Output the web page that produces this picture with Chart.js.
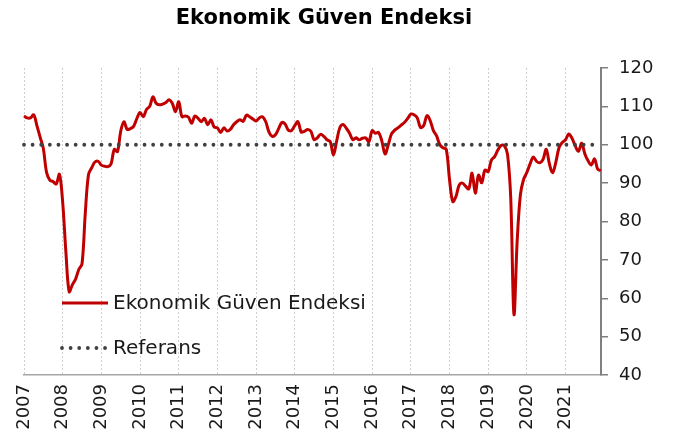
<!DOCTYPE html>
<html>
<head>
<meta charset="utf-8">
<script src="https://cdn.jsdelivr.net/npm/chart.js@4/dist/chart.umd.min.js"></script>
<style>
    html, body { margin: 0; padding: 0; background: #fff; }
</style>
</head>
<body>
<canvas id="chart" width="699" height="440"></canvas>
<script>
const years = ['2007', '2008', '2009', '2010', '2011', '2012', '2013', '2014',
    '2015', '2016', '2017', '2018', '2019', '2020', '2021'];
const months = ['01', '02', '03', '04', '05', '06', '07', '08', '09', '10', '11', '12'];

// Ekonomik Güven Endeksi, monthly
const v2007 = [107.5, 107, 107, 107.8, 105, 102, 99, 92.8, 90.8, 90.4, 89.8, 92.3];
const v2008 = [85, 72, 61.7, 63.5, 65, 67.5, 69, 82, 92.2, 94, 95.5, 95.7];
const v2009 = [94.7, 94.4, 94.3, 95, 98.8, 98.2, 103.5, 106, 104, 104.2, 104.8, 106.8];
const v2010 = [108.4, 107.3, 109.2, 110, 112.5, 110.8, 110.4, 110.6, 111, 111.7, 110.8, 108.6];
const v2011 = [111.2, 107.3, 107.5, 107.2, 105.6, 107.5, 106.9, 106, 106.9, 105.2, 106.5, 104.6];
const v2012 = [104.4, 103.2, 104.4, 103.6, 104, 105.2, 106, 106.5, 106.1, 107.7, 107.3, 106.7];
const v2013 = [106.2, 107, 107.3, 106, 103.3, 102.2, 102.6, 104.2, 105.8, 105.4, 103.8, 103.7];
const v2014 = [105, 106, 103.3, 103.5, 104, 103.5, 101.3, 101.8, 102.7, 102.2, 101.3, 100.8];
const v2015 = [97.3, 101, 104.5, 105.3, 104.3, 103, 101.3, 101.8, 101.3, 101.7, 101.8, 100.8];
const v2016 = [103.7, 103, 103.2, 101, 97.6, 100, 102.8, 103.8, 104.4, 105.1, 105.8, 106.8];
const v2017 = [108, 107.8, 107, 104.5, 105, 107.6, 106.3, 103.7, 102.3, 100, 99.2, 98.8];
const v2018 = [91, 85.2, 86.5, 89.5, 90, 89.2, 88.5, 92.6, 87.4, 92.1, 90.1, 93.4];
const v2019 = [93, 96, 96.9, 98.6, 99.8, 99.8, 97.5, 86, 55.8, 75, 87, 91];
const v2020 = [92.8, 95, 96.8, 95.7, 95.3, 96.1, 98.8, 95, 92.7, 95.5, 99.3, 100.6];
const v2021 = [101.3, 102.8, 101.7, 99.7, 98.3, 100.4, 97.6, 95.8, 94.7, 96.3, 93.6, 93.3];

// Referans: flat line at 100
const referansValue = 100;
const referansStart = '2007-01';
const referansEnd = '2021-10';

const labels = years.flatMap((y) => months.map((m) => `${y}-${m}`));
const guven = [].concat(v2007, v2008, v2009, v2010, v2011, v2012, v2013, v2014,
    v2015, v2016, v2017, v2018, v2019, v2020, v2021);
const referans = [
    { x: referansStart, y: referansValue },
    { x: referansEnd, y: referansValue },
];

const FONT = "'DejaVu Sans', sans-serif";
const TEXT = '#1a1a1a';
const RED = '#c00000';
const DOTS = '#404040';
const TITLE = 'Ekonomik Güven Endeksi';

// title and legend drawn by hand: title is centred a bit left of the canvas,
// legend sits inside the plot, lower left
const decorations = {
    id: 'decorations',
    afterDraw(chart) {
        const { ctx, chartArea } = chart;
        ctx.save();
        ctx.font = `bold 21px ${FONT}`;
        ctx.fillStyle = '#000';
        ctx.textAlign = 'center';
        ctx.textBaseline = 'middle';
        ctx.fillText(TITLE, 324, 19);

        const x0 = chartArea.left + 38;
        const x1 = chartArea.left + 84;
        const rows = [chartArea.bottom - 72, chartArea.bottom - 27];
        chart.data.datasets.forEach((ds, i) => {
            const y = rows[i];
            ctx.beginPath();
            ctx.strokeStyle = ds.borderColor;
            ctx.lineWidth = ds.borderWidth;
            ctx.lineCap = ds.borderCapStyle || 'butt';
            ctx.setLineDash(ds.borderDash || []);
            ctx.moveTo(x0, y);
            ctx.lineTo(x1, y);
            ctx.stroke();
            ctx.setLineDash([]);
            ctx.font = `20px ${FONT}`;
            ctx.fillStyle = TEXT;
            ctx.textAlign = 'left';
            ctx.fillText(ds.label, x1 + 5, y + 1);
        });
        ctx.restore();
    },
};

new Chart(document.getElementById('chart'), {
    type: 'line',
    data: {
        labels,
        datasets: [
            {
                label: 'Ekonomik Güven Endeksi',
                data: guven,
                borderColor: RED,
                borderWidth: 3,
                pointRadius: 0,
                tension: 0.35,
                order: 1,
            },
            {
                label: 'Referans',
                data: referans,
                borderColor: DOTS,
                borderWidth: 3.8,
                borderDash: [0.01, 8.6],
                borderCapStyle: 'round',
                pointRadius: 0,
                order: 0,
            },
        ],
    },
    options: {
        responsive: false,
        animation: false,
        layout: { padding: { left: 24, right: 0, top: 68, bottom: 0 } },
        plugins: {
            legend: { display: false },
            tooltip: { enabled: false },
            title: { display: false },
        },
        scales: {
            x: {
                grid: {
                    color: '#cfcfcf',
                    lineWidth: (c) => (c.tick && c.tick.label ? 1 : 0),
                    drawTicks: false,
                },
                border: { display: true, color: '#a6a6a6', width: 1.5, dash: [2, 2] },
                ticks: {
                    autoSkip: false,
                    maxRotation: 90,
                    minRotation: 90,
                    padding: 9,
                    color: TEXT,
                    font: { family: FONT, size: 18 },
                    callback: function (val) {
                        const l = this.getLabelForValue(val);
                        return l.endsWith('-01') ? l.slice(0, 4) : '';
                    },
                },
                afterFit: (s) => { s.height = 65; },
            },
            y: {
                position: 'right',
                min: 40,
                max: 120,
                grid: {
                    drawOnChartArea: false,
                    drawTicks: true,
                    tickLength: 7,
                    color: '#808080',
                    lineWidth: 1.5,
                },
                border: { display: true, color: '#808080', width: 2 },
                ticks: {
                    stepSize: 10,
                    padding: 11,
                    color: TEXT,
                    font: { family: FONT, size: 18 },
                },
                afterFit: (s) => { s.width = 98; },
            },
        },
    },
    plugins: [decorations],
});
</script>
</body>
</html>
